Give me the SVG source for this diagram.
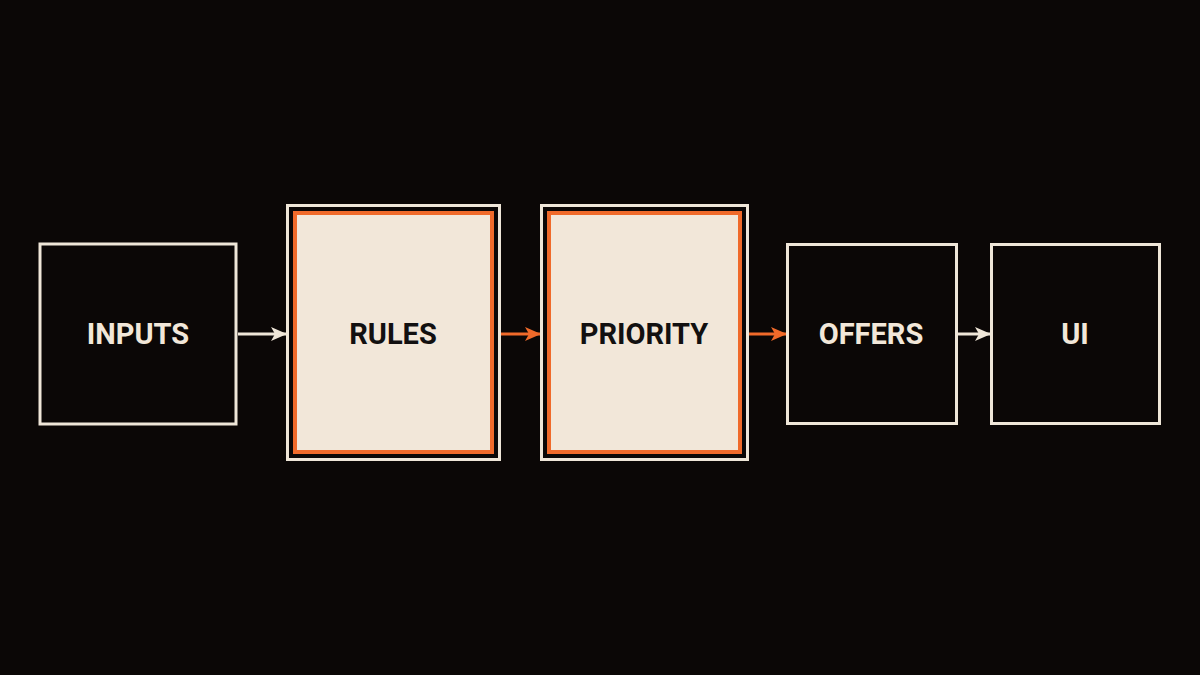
<svg xmlns="http://www.w3.org/2000/svg" width="1200" height="675" viewBox="0 0 1200 675">
<defs>
<style>
.box{fill:none;stroke:#efe6d8;stroke-width:3}
.frame{fill:#0b0706;stroke:#efe6d8;stroke-width:3}
.core{fill:#f2e7d9;stroke:#f06a2a;stroke-width:4}
.lbl{font-family:Roboto,"Liberation Sans",sans-serif;font-weight:700;font-size:29px;text-anchor:middle}
.light{fill:#f2e7d9}
.dark{fill:#121010}
.w{stroke:#efe6d8;stroke-width:3;fill:none}
.o{stroke:#f06a2a;stroke-width:3;fill:none}
</style>
<marker id="aw" markerWidth="16" markerHeight="16" refX="15" refY="8" orient="auto" markerUnits="userSpaceOnUse" viewBox="0 0 16 16"><path d="M0,1 L16,8 L0,15 L4,8 Z" fill="#efe6d8"/></marker>
<marker id="ao" markerWidth="16" markerHeight="16" refX="15" refY="8" orient="auto" markerUnits="userSpaceOnUse" viewBox="0 0 16 16"><path d="M0,1 L16,8 L0,15 L4,8 Z" fill="#f06a2a"/></marker>
</defs>
<rect width="1200" height="675" fill="#0b0706"/>
<g id="connectors">
<line class="w" x1="238" y1="334" x2="286" y2="334" marker-end="url(#aw)"/>
<line class="o" x1="501" y1="334" x2="540" y2="334" marker-end="url(#ao)"/>
<line class="o" x1="749" y1="334" x2="786" y2="334" marker-end="url(#ao)"/>
<line class="w" x1="957" y1="334" x2="990" y2="334" marker-end="url(#aw)"/>
</g>
<g id="inputs">
<rect class="box" x="40" y="244" width="196" height="180"/>
<text class="lbl light" x="138" y="344">INPUTS</text>
</g>
<g id="rules">
<rect class="frame" x="287.5" y="205.5" width="212" height="254"/>
<rect class="core" x="295" y="213" width="197" height="239"/>
<text class="lbl dark" x="393" y="344">RULES</text>
</g>
<g id="priority">
<rect class="frame" x="541.5" y="205.5" width="206" height="254"/>
<rect class="core" x="549" y="213" width="191" height="239"/>
<text class="lbl dark" x="644" y="344">PRIORITY</text>
</g>
<g id="offers">
<rect class="box" x="787.5" y="244.5" width="169" height="179"/>
<text class="lbl light" x="871" y="344">OFFERS</text>
</g>
<g id="ui">
<rect class="box" x="991.5" y="244.5" width="168" height="179"/>
<text class="lbl light" x="1075" y="344">UI</text>
</g>
</svg>
